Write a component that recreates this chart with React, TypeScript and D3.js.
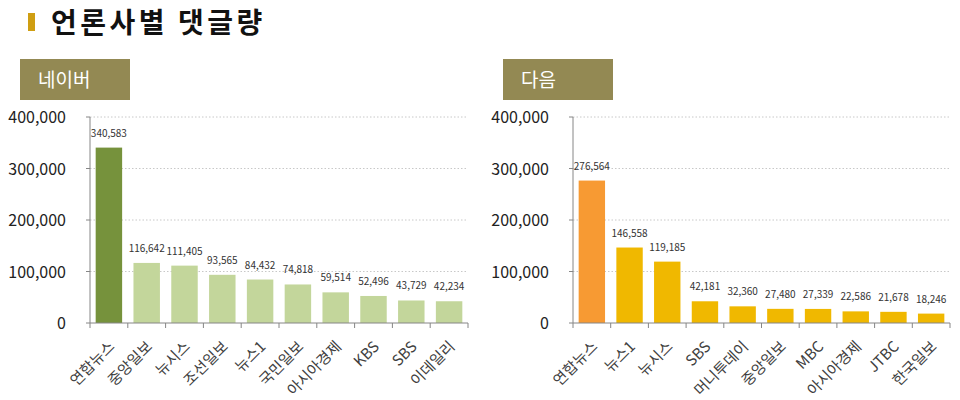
import React from "react";
import * as d3 from "d3";

const naverCategories = ["연합뉴스", "중앙일보", "뉴시스", "조선일보", "뉴스1", "국민일보", "아시아경제", "KBS", "SBS", "이데일리"];
const naverValues = [340583, 116642, 111405, 93565, 84432, 74818, 59514, 52496, 43729, 42234];
const daumCategories = ["연합뉴스", "뉴스1", "뉴시스", "SBS", "머니투데이", "중앙일보", "MBC", "아시아경제", "JTBC", "한국일보"];
const daumValues = [276564, 146558, 119185, 42181, 32360, 27480, 27339, 22586, 21678, 18246];
const yTicks = [0, 100000, 200000, 300000, 400000];

const FONT = "'Noto Sans CJK KR', 'Noto Sans', sans-serif";

type PanelProps = {
  title: string;
  categories: string[];
  values: number[];
  x0: number;
  x1: number;
  boxX: number;
  firstColor: string;
  restColor: string;
};

function Panel({ title, categories, values, x0, x1, boxX, firstColor, restColor }: PanelProps) {
  const yTop = 117;
  const yBottom = 323;
  const y = d3.scaleLinear().domain([0, 400000]).range([yBottom, yTop]);
  const x = d3.scaleBand<string>().domain(categories).range([x0, x1]).paddingInner(0.3).paddingOuter(0.15);
  const fmt = d3.format(",");
  const step = (x1 - x0) / categories.length;
  return (
    <g>
      <rect x={boxX} y={59} width={110} height={41} fill="#938953" />
      <text x={boxX + 18} y={87} fill="#fff" fontSize={19} fontFamily={FONT}>{title}</text>
      {yTicks.filter((t) => t > 0).map((t) => (
        <line key={t} x1={x0} x2={x1} y1={y(t)} y2={y(t)} stroke="#c8c8c8" strokeDasharray="1.5,2" />
      ))}
      {yTicks.map((t) => (
        <text key={t} x={x0 - 24} y={y(t) + 6} textAnchor="end" fontSize={16} fill="#222" fontFamily={FONT}>{fmt(t)}</text>
      ))}
      {categories.map((c, i) => (
        <rect key={c} x={x(c)!} y={y(values[i])} width={x.bandwidth()} height={yBottom - y(values[i])} fill={i === 0 ? firstColor : restColor} />
      ))}
      {categories.map((c, i) => (
        <text key={c} x={x(c)! + x.bandwidth() / 2} y={y(values[i]) - 11} textAnchor="middle" fontSize={10} fill="#333" fontFamily={FONT}>{fmt(values[i])}</text>
      ))}
      <line x1={x0} x2={x0} y1={yTop} y2={yBottom} stroke="#868686" />
      <line x1={x0} x2={x1} y1={yBottom} y2={yBottom} stroke="#868686" />
      {d3.range(categories.length + 1).map((i) => (
        <line key={i} x1={x0 + i * step} x2={x0 + i * step} y1={yBottom} y2={yBottom + 5} stroke="#868686" />
      ))}
      {yTicks.map((t) => (
        <line key={"yt" + t} x1={x0 - 4} x2={x0} y1={y(t)} y2={y(t)} stroke="#868686" />
      ))}
      {categories.map((c) => {
        const cx = x(c)! + x.bandwidth() / 2 + 2;
        const cy = yBottom + 20;
        return (
          <text key={c} x={cx} y={cy} transform={`rotate(-45 ${cx} ${cy})`} textAnchor="end" dominantBaseline="central" fontSize={15} fill="#404040" fontFamily={FONT}>{c}</text>
        );
      })}
    </g>
  );
}

export default function App() {
  return (
    <svg width={960} height={400} style={{ position: "absolute", left: 0, top: 0, background: "#fff" }}>
      <rect x={28} y={13} width={7} height={18} fill="#CF9E12" />
      <text x={51} y={33} fontSize={28} fontWeight="bold" letterSpacing={3.5} fill="#111" fontFamily={FONT}>언론사별 댓글량</text>
      <Panel title="네이버" categories={naverCategories} values={naverValues} x0={90} x1={468} boxX={20} firstColor="#76923C" restColor="#C3D69B" />
      <Panel title="다음" categories={daumCategories} values={daumValues} x0={573} x1={950} boxX={503} firstColor="#F79A33" restColor="#F0B800" />
    </svg>
  );
}
